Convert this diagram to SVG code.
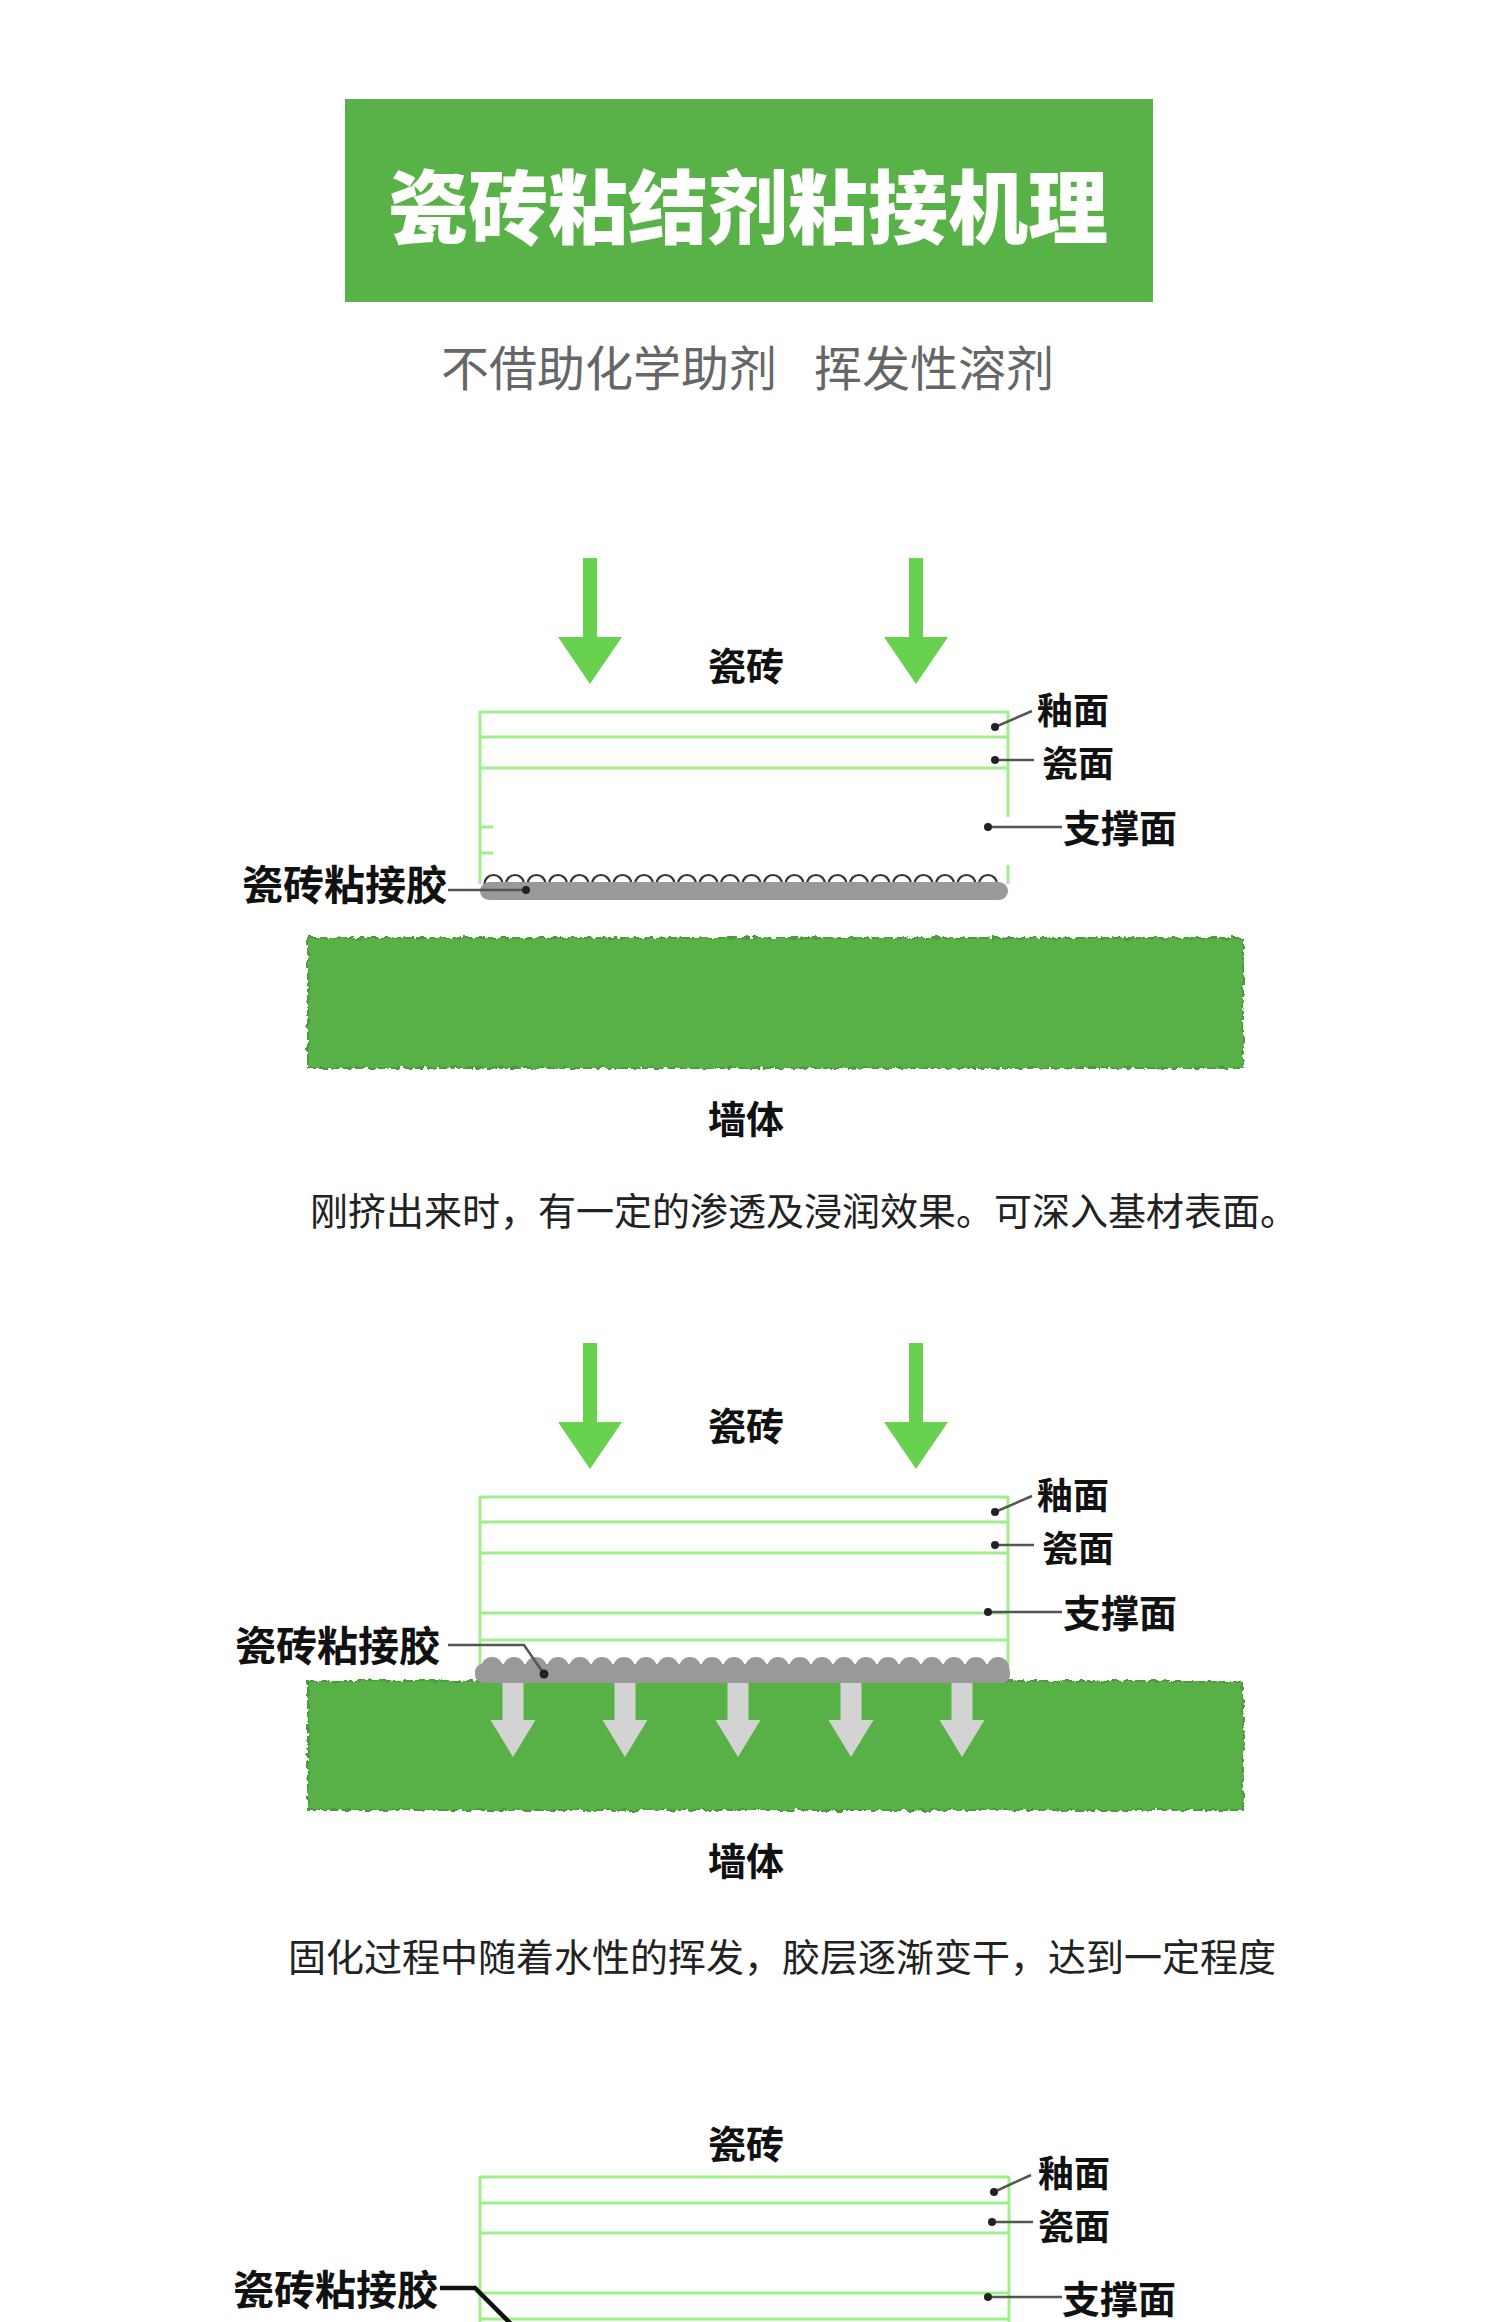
<svg xmlns="http://www.w3.org/2000/svg" width="1500" height="2322" viewBox="0 0 1500 2322">
<style>
.lbl{font-family:"Noto Sans CJK SC","Noto Sans",sans-serif;font-weight:700;fill:#111;font-size:38px}
.sm{font-size:36px}
.glue-lbl{font-size:41px}
.cap{font-family:"Noto Sans CJK SC","Noto Sans",sans-serif;font-weight:400;fill:#222;font-size:38px}
.tile{stroke:#9ff08c;stroke-width:3;fill:none}
.ldr{stroke:#555;stroke-width:2.5;fill:none}
.dot{fill:#222}
.garrow{fill:#69d150}
.warrow{fill:#d3d3d3}
.wall{fill:#59b146;stroke:#4c9a3c;stroke-width:2;stroke-dasharray:9 3}
.glue{fill:#999}
</style>
<defs>
<filter id="rough" x="-3%" y="-10%" width="106%" height="120%">
<feTurbulence type="fractalNoise" baseFrequency="0.13" numOctaves="2" seed="4" result="n"/>
<feDisplacementMap in="SourceGraphic" in2="n" scale="6" xChannelSelector="R" yChannelSelector="G"/>
</filter>
<path id="gA" d="M-7,0 H7 V79 H32 L0,126 L-32,79 H-7 Z"/>
<path id="wA" d="M-10.5,0 H10.5 V37 H22.5 L0,74 L-22.5,37 H-10.5 Z"/>
<circle id="b1" r="9" fill="#fff" stroke="#333" stroke-width="2.2"/>
<circle id="b2" r="11" fill="#999"/>
</defs>
<rect width="1500" height="2322" fill="#fff"/>

<g id="title">
<rect x="345" y="99" width="808" height="203" fill="#59b247"/>
<text x="748" y="237" text-anchor="middle" style="font-family:'Noto Sans CJK SC',sans-serif;font-weight:900;font-size:80px;fill:#fff">瓷砖粘结剂粘接机理</text>
</g>
<g id="subtitle">
<text x="441" y="386" style="font-family:'Noto Sans CJK SC',sans-serif;font-weight:400;font-size:48px;fill:#666">不借助化学助剂 <tspan x="814">挥发性溶剂</tspan></text>
</g>

<!-- Panel 1 -->
<g id="p1-arrows">
<use href="#gA" x="590" y="558" class="garrow"/>
<use href="#gA" x="916" y="558" class="garrow"/>
</g>
<g id="p1-wall"><rect class="wall" x="308" y="938" width="935" height="130" filter="url(#rough)"/></g>
<g id="p1-tile">
<line class="tile" x1="480" y1="712" x2="1008" y2="712"/>
<line class="tile" x1="480" y1="737" x2="1008" y2="737"/>
<line class="tile" x1="480" y1="768" x2="1008" y2="768"/>
<line class="tile" x1="480" y1="711" x2="480" y2="884"/>
<line class="tile" x1="1008" y1="711" x2="1008" y2="817"/>
<line class="tile" x1="1008" y1="865" x2="1008" y2="884"/>
<line class="tile" x1="480" y1="827" x2="493" y2="827"/>
<line class="tile" x1="480" y1="853" x2="493" y2="853"/>
</g>
<g id="p1-glue">
<use href="#b1" x="493.5" y="884"/><use href="#b1" x="515" y="884"/><use href="#b1" x="536.5" y="884"/><use href="#b1" x="558" y="884"/><use href="#b1" x="579.5" y="884"/><use href="#b1" x="601" y="884"/><use href="#b1" x="622.5" y="884"/><use href="#b1" x="644" y="884"/><use href="#b1" x="665.5" y="884"/><use href="#b1" x="687" y="884"/><use href="#b1" x="708.5" y="884"/><use href="#b1" x="730" y="884"/><use href="#b1" x="751.5" y="884"/><use href="#b1" x="773" y="884"/><use href="#b1" x="794.5" y="884"/><use href="#b1" x="816" y="884"/><use href="#b1" x="837.5" y="884"/><use href="#b1" x="859" y="884"/><use href="#b1" x="880.5" y="884"/><use href="#b1" x="902" y="884"/><use href="#b1" x="923.5" y="884"/><use href="#b1" x="945" y="884"/><use href="#b1" x="966.5" y="884"/><use href="#b1" x="988" y="884"/>
<rect class="glue" x="480" y="882" width="528" height="18" rx="9"/>
</g>
<g id="p1-labels">
<text class="lbl" x="746" y="680" text-anchor="middle">瓷砖</text>
<text class="lbl sm" x="1037" y="724">釉面</text>
<text class="lbl sm" x="1042" y="777">瓷面</text>
<text class="lbl" x="1063" y="842">支撑面</text>
<text class="lbl glue-lbl" x="447" y="900" text-anchor="end">瓷砖粘接胶</text>
<text class="lbl" x="746" y="1133" text-anchor="middle">墙体</text>
<text class="cap" x="310" y="1225">刚挤出来时，有一定的渗透及浸润效果。可深入基材表面。</text>
</g>

<!-- Panel 2 -->
<g id="p2-arrows">
<use href="#gA" x="590" y="1343" class="garrow"/>
<use href="#gA" x="916" y="1343" class="garrow"/>
</g>
<g id="p2-wall"><rect class="wall" x="308" y="1681" width="935" height="129" filter="url(#rough)"/></g>
<g id="p2-tile">
<line class="tile" x1="480" y1="1497" x2="1008" y2="1497"/>
<line class="tile" x1="480" y1="1522" x2="1008" y2="1522"/>
<line class="tile" x1="480" y1="1553" x2="1008" y2="1553"/>
<line class="tile" x1="480" y1="1613" x2="1008" y2="1613"/>
<line class="tile" x1="480" y1="1640" x2="1008" y2="1640"/>
<line class="tile" x1="480" y1="1496" x2="480" y2="1668"/>
<line class="tile" x1="1008" y1="1496" x2="1008" y2="1668"/>
</g>
<g id="p2-glue">
<use href="#b2" x="492" y="1668"/><use href="#b2" x="514" y="1668"/><use href="#b2" x="536" y="1668"/><use href="#b2" x="558" y="1668"/><use href="#b2" x="580" y="1668"/><use href="#b2" x="602" y="1668"/><use href="#b2" x="624" y="1668"/><use href="#b2" x="646" y="1668"/><use href="#b2" x="668" y="1668"/><use href="#b2" x="690" y="1668"/><use href="#b2" x="712" y="1668"/><use href="#b2" x="734" y="1668"/><use href="#b2" x="756" y="1668"/><use href="#b2" x="778" y="1668"/><use href="#b2" x="800" y="1668"/><use href="#b2" x="822" y="1668"/><use href="#b2" x="844" y="1668"/><use href="#b2" x="866" y="1668"/><use href="#b2" x="888" y="1668"/><use href="#b2" x="910" y="1668"/><use href="#b2" x="932" y="1668"/><use href="#b2" x="954" y="1668"/><use href="#b2" x="976" y="1668"/><use href="#b2" x="998" y="1668"/>
<rect class="glue" x="475" y="1664" width="535" height="19" rx="8"/>
</g>
<g id="p2-water-arrows">
<use href="#wA" x="513" y="1683" class="warrow"/>
<use href="#wA" x="625" y="1683" class="warrow"/>
<use href="#wA" x="738" y="1683" class="warrow"/>
<use href="#wA" x="851" y="1683" class="warrow"/>
<use href="#wA" x="962" y="1683" class="warrow"/>
</g>
<g id="p2-labels">
<text class="lbl" x="746" y="1440" text-anchor="middle">瓷砖</text>
<text class="lbl sm" x="1037" y="1509">釉面</text>
<text class="lbl sm" x="1042" y="1562">瓷面</text>
<text class="lbl" x="1063" y="1627">支撑面</text>
<text class="lbl glue-lbl" x="440" y="1661" text-anchor="end">瓷砖粘接胶</text>
<text class="lbl" x="746" y="1875" text-anchor="middle">墙体</text>
<text class="cap" x="288" y="1971">固化过程中随着水性的挥发，胶层逐渐变干，达到一定程度</text>
</g>

<!-- Panel 3 -->
<g id="p3-tile">
<line class="tile" x1="480" y1="2177" x2="1009" y2="2177"/>
<line class="tile" x1="480" y1="2203" x2="1009" y2="2203"/>
<line class="tile" x1="480" y1="2233" x2="1009" y2="2233"/>
<line class="tile" x1="480" y1="2293" x2="1009" y2="2293"/>
<line class="tile" x1="480" y1="2319" x2="1009" y2="2319"/>
<line class="tile" x1="480" y1="2176" x2="480" y2="2322"/>
<line class="tile" x1="1009" y1="2176" x2="1009" y2="2322"/>
</g>
<g id="p3-labels">
<text class="lbl" x="746" y="2158" text-anchor="middle">瓷砖</text>
<text class="lbl sm" x="1038" y="2187">釉面</text>
<text class="lbl sm" x="1038" y="2240">瓷面</text>
<text class="lbl" x="1062" y="2313">支撑面</text>
<text class="lbl glue-lbl" x="438" y="2305" text-anchor="end">瓷砖粘接胶</text>
</g>

<g id="connectors">
<line class="ldr" x1="995" y1="727" x2="1032" y2="711"/><circle class="dot" cx="995" cy="727" r="4"/>
<line class="ldr" x1="995" y1="760" x2="1034" y2="760"/><circle class="dot" cx="995" cy="760" r="4"/>
<line class="ldr" x1="988" y1="827" x2="1062" y2="827"/><circle class="dot" cx="988" cy="827" r="4"/>
<line class="ldr" x1="448" y1="890" x2="526" y2="890"/><circle class="dot" cx="526" cy="890" r="4"/>

<line class="ldr" x1="995" y1="1512" x2="1032" y2="1496"/><circle class="dot" cx="995" cy="1512" r="4"/>
<line class="ldr" x1="995" y1="1545" x2="1034" y2="1545"/><circle class="dot" cx="995" cy="1545" r="4"/>
<line class="ldr" x1="988" y1="1612" x2="1062" y2="1612"/><circle class="dot" cx="988" cy="1612" r="4"/>
<polyline class="ldr" points="448,1645 524,1645 544,1674"/><circle class="dot" cx="544" cy="1674" r="4.5"/>

<line class="ldr" x1="994" y1="2192" x2="1031" y2="2175"/><circle class="dot" cx="994" cy="2192" r="4"/>
<line class="ldr" x1="992" y1="2222" x2="1033" y2="2222"/><circle class="dot" cx="992" cy="2222" r="4"/>
<line class="ldr" x1="988" y1="2297" x2="1062" y2="2297"/><circle class="dot" cx="988" cy="2297" r="4"/>
<polyline points="440,2288 475,2288 512,2325" fill="none" stroke="#111" stroke-width="4.5"/>
</g>
</svg>
